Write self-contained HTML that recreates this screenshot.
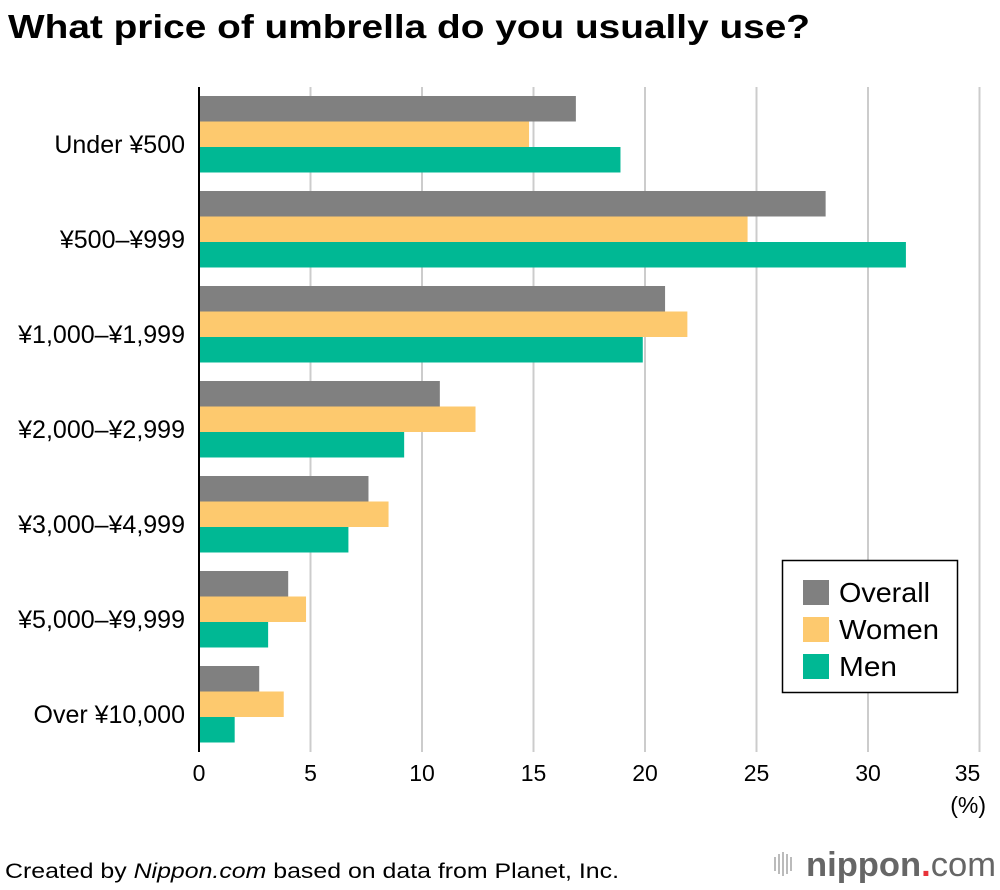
<!DOCTYPE html>
<html><head><meta charset="utf-8"><style>
body{margin:0;background:#fff;font-family:"Liberation Sans",Arial,sans-serif;}
#wrap{position:relative;width:1000px;height:890px;overflow:hidden;}
</style></head><body>
<div id="wrap">
<svg id="chart" width="1000" height="890">
<text x="8" y="38" font-size="33" font-weight="bold" fill="#000" textLength="802" lengthAdjust="spacingAndGlyphs">What price of umbrella do you usually use?</text>
<g id="grid"></g>
<g id="bars"></g>
<line x1="199" y1="87" x2="199" y2="752" stroke="#000" stroke-width="2"/>
<g id="labels"></g>
<g id="ticks"></g>
<text x="986" y="813" font-size="23" text-anchor="end">(%)</text>
<g>
<rect x="782.5" y="560.5" width="175" height="132" fill="#fff" stroke="#000" stroke-width="1.5"/>
<rect x="803" y="580" width="26" height="25" fill="#808080"/>
<text x="839" y="602" font-size="28" textLength="91" lengthAdjust="spacingAndGlyphs">Overall</text>
<rect x="803" y="617" width="26" height="25" fill="#fdc96e"/>
<text x="839" y="639" font-size="28" textLength="100" lengthAdjust="spacingAndGlyphs">Women</text>
<rect x="803" y="654" width="26" height="25" fill="#00b894"/>
<text x="839" y="676" font-size="28" textLength="58" lengthAdjust="spacingAndGlyphs">Men</text>
</g>
<text x="5" y="878" font-size="21" textLength="614" lengthAdjust="spacingAndGlyphs">Created by <tspan font-style="italic">Nippon.com</tspan> based on data from Planet, Inc.</text>
<g>
<rect x="774" y="857" width="2" height="14" fill="#bbb"/><rect x="778" y="854" width="2" height="20" fill="#bbb"/><rect x="782" y="852" width="2" height="24" fill="#bbb"/><rect x="786" y="854" width="2" height="20" fill="#bbb"/><rect x="790" y="857" width="2" height="14" fill="#bbb"/>
<text x="806" y="876" font-size="34" fill="#666" font-weight="bold" textLength="190" lengthAdjust="spacingAndGlyphs">nippon<tspan fill="#e8333a">.</tspan><tspan font-weight="normal">com</tspan></text>
</g>
</svg>
</div>
<script>
const categories=["Under ¥500","¥500–¥999","¥1,000–¥1,999","¥2,000–¥2,999","¥3,000–¥4,999","¥5,000–¥9,999","Over ¥10,000"];
const overall=[16.9,28.1,20.9,10.8,7.6,4.0,2.7];
const women=[14.8,24.6,21.9,12.4,8.5,4.8,3.8];
const men=[18.9,31.7,19.9,9.2,6.7,3.1,1.6];
const ticks=[0,5,10,15,20,25,30,35];
const NS="http://www.w3.org/2000/svg";
const x=v=>199+v*22.3;
const groupY=i=>96+i*95;
function mk(tag,attrs,parent){const e=document.createElementNS(NS,tag);for(const k in attrs)e.setAttribute(k,attrs[k]);parent.appendChild(e);return e;}
const grid=document.getElementById('grid'),bars=document.getElementById('bars'),labels=document.getElementById('labels'),tk=document.getElementById('ticks');
ticks.forEach(t=>{
 if(t>0){const l=mk('line',{x1:x(t),x2:x(t),y1:87,y2:752,stroke:'#ccc','stroke-width':2},grid);
 
 }
 const tx=mk('text',{x:t===35?x(t)-12:x(t),y:781,'font-size':23,'text-anchor':'middle'},tk);tx.textContent=t;
 
 
});
const series=[[overall,'#808080','overall'],[women,'#fdc96e','women'],[men,'#00b894','men']];
categories.forEach((c,i)=>{
 series.forEach((s,j)=>{
  const r=mk('rect',{x:x(0),y:groupY(i)+j*25.5,width:x(s[0][i])-x(0),height:25.5,fill:s[1]},bars);
  
  
 });
 const t=mk('text',{x:185,y:groupY(i)+57,'font-size':25,'text-anchor':'end'},labels);t.textContent=c;
 
 
});
</script>
</body></html>
